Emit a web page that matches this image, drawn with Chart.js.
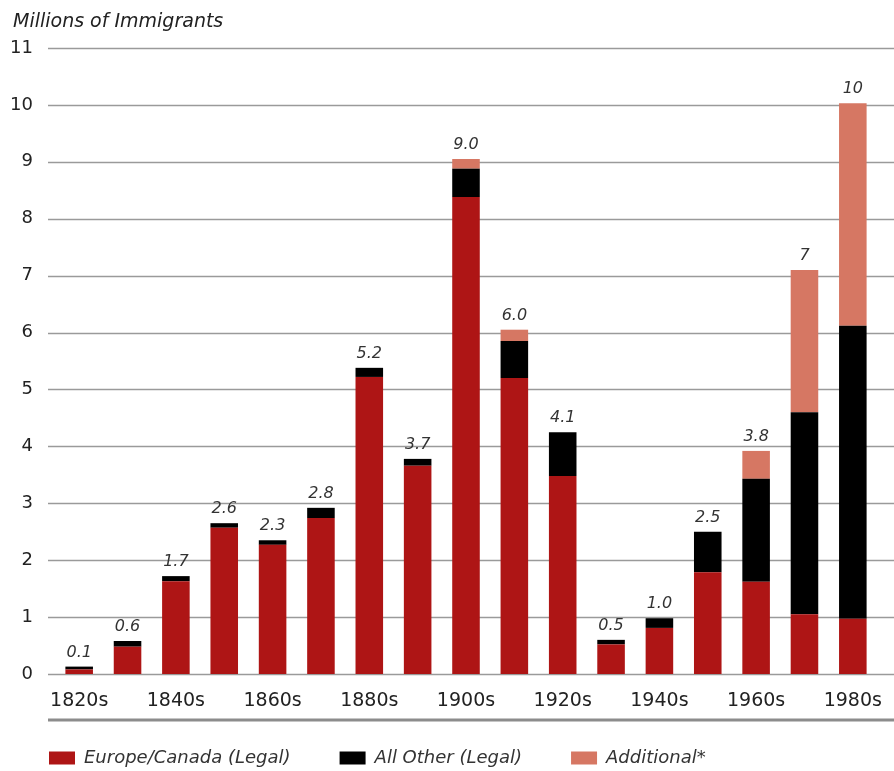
<!DOCTYPE html>
<html>
<head>
<meta charset="utf-8">
<script src="https://cdn.jsdelivr.net/npm/chart.js@4.4.1/dist/chart.umd.min.js"></script>
<style>
  body { margin: 0; background: #fff; }
  #wrap { width: 894px; height: 771px; position: relative; }
</style>
</head>
<body>
<div id="wrap"><canvas id="chart"></canvas></div>
<script>
// decades on the x axis (only every other one gets a label)
var decades = ['1820s','1830s','1840s','1850s','1860s','1870s','1880s','1890s','1900s',
               '1910s','1920s','1930s','1940s','1950s','1960s','1970s','1980s'];
// millions of immigrants
var europeCanada = [0.08, 0.48, 1.63, 2.57, 2.27, 2.74, 5.22, 3.66, 8.38, 5.2, 3.48, 0.52, 0.81, 1.79, 1.62, 1.05, 0.97];
var allOther     = [0.05, 0.1, 0.09, 0.08, 0.08, 0.18, 0.16, 0.12, 0.5, 0.65, 0.77, 0.08, 0.17, 0.71, 1.81, 3.55, 5.15];
var additional   = [0, 0, 0, 0, 0, 0, 0, 0, 0.17, 0.2, 0, 0, 0, 0, 0.49, 2.5, 3.91];
// totals printed above each bar
var totalLabels = ['0.1','0.6','1.7','2.6','2.3','2.8','5.2','3.7','9.0','6.0','4.1','0.5','1.0','2.5','3.8','7','10'];
var yTicks = [0,1,2,3,4,5,6,7,8,9,10,11];

var FONT = 'DejaVu Sans';
Chart.defaults.font.family = FONT;

// title, grid lines, decade labels, bottom rule, value labels
var extras = {
  id: 'extras',
  beforeDatasetsDraw: function(chart) {
    var ctx = chart.ctx, y = chart.scales.y;
    ctx.save();
    ctx.strokeStyle = '#9a9a9a';
    ctx.lineWidth = 1.5;
    yTicks.forEach(function(v) {
      var py = Math.round(y.getPixelForValue(v)) + 0.5;
      ctx.beginPath();
      ctx.moveTo(48, py);
      ctx.lineTo(chart.width, py);
      ctx.stroke();
    });
    ctx.restore();
  },
  afterDraw: function(chart) {
    var ctx = chart.ctx, x = chart.scales.x, y = chart.scales.y;
    ctx.save();
    ctx.fillStyle = '#222';
    ctx.font = 'italic 19px "' + FONT + '"';
    ctx.textAlign = 'left';
    ctx.textBaseline = 'alphabetic';
    ctx.fillText('Millions of Immigrants', 13, 27);

    // decade labels, every other category
    ctx.font = '19px "' + FONT + '"';
    ctx.textAlign = 'center';
    for (var k = 0; k < decades.length; k += 2) {
      ctx.fillText(decades[k], x.getPixelForValue(k), 706);
    }

    ctx.strokeStyle = '#8c8c8c';
    ctx.lineWidth = 3;
    ctx.beginPath();
    ctx.moveTo(48, 720);
    ctx.lineTo(chart.width, 720);
    ctx.stroke();

    ctx.fillStyle = '#333';
    ctx.font = 'italic 16px "' + FONT + '"';
    for (var i = 0; i < decades.length; i++) {
      var tot = europeCanada[i] + allOther[i] + additional[i];
      ctx.fillText(totalLabels[i], x.getPixelForValue(i), y.getPixelForValue(tot) - 10);
    }
    ctx.restore();
  }
};

var ctx = document.getElementById('chart').getContext('2d');
var chart = new Chart(ctx, {
  type: 'bar',
  data: {
    labels: decades,
    datasets: [
      { label: 'Europe/Canada (Legal)', data: europeCanada, backgroundColor: '#ae1515' },
      { label: 'All Other (Legal)', data: allOther, backgroundColor: '#000000' },
      { label: 'Additional*', data: additional, backgroundColor: '#d67763' }
    ]
  },
  options: {
    responsive: true,
    maintainAspectRatio: false,
    animation: false,
    layout: { padding: { left: 0, right: 17, top: 48, bottom: -6 } },
    datasets: { bar: { categoryPercentage: 1, barPercentage: 0.57 } },
    scales: {
      x: {
        stacked: true,
        grid: { display: false, drawTicks: false },
        border: { display: false },
        ticks: { display: false },
        afterFit: function(s) { s.height = 26; }
      },
      y: {
        stacked: true,
        min: 0, max: 11,
        grid: { display: false, drawTicks: false },
        border: { display: false },
        afterFit: function(s) { s.width = 55; },
        ticks: { stepSize: 1, padding: 22, color: '#222', font: { size: 18 } }
      }
    },
    plugins: {
      legend: {
        position: 'bottom',
        align: 'start',
        labels: {
          boxWidth: 26, boxHeight: 13, padding: 49,
          color: '#333', font: { size: 18, style: 'italic' }
        }
      },
      tooltip: { enabled: false }
    }
  },
  plugins: [extras]
});
</script>
</body>
</html>
